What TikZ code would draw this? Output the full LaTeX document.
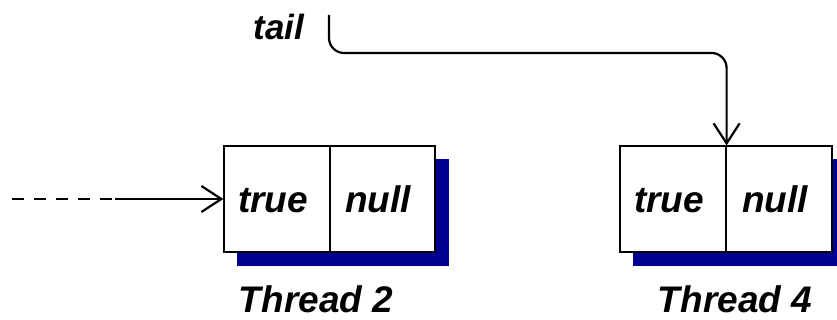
\documentclass[tikz,border=0pt]{standalone}
\usepackage{fontspec}
\setmainfont{Liberation Sans}
\usetikzlibrary{arrows.meta}
\definecolor{shadowblue}{RGB}{0,0,145}
\begin{document}
\begin{tikzpicture}[x=1pt,y=-1pt,
  cell/.style={draw, line width=1.2pt, fill=white, minimum width=106pt, minimum height=106pt, inner sep=0pt},
  celltext/.style={font=\fontsize{37}{40}\selectfont\bfseries\itshape, inner sep=0pt, anchor=base},
  shadowbox/.style={fill=shadowblue, minimum height=107pt, inner sep=0pt},
  lbl/.style={font=\fontsize{37}{42}\selectfont\bfseries\itshape, inner sep=0pt, anchor=base},
  ptr/.style={line width=2.2pt, -{Straight Barb[length=20pt,width=26pt]}}]
\useasboundingbox (0,0) rectangle (837,320);
% shadows
\node[shadowbox, minimum width=212pt] (s1) at (343,212.5) {};
\node[shadowbox, minimum width=204pt] (s2) at (735,212.5) {};
% boxes
\node[cell] (b1l) at (277,199) {};
\node[cell, minimum width=105pt] (b1r) at (382.5,199) {};
\node[cell] (b2l) at (673,199) {};
\node[cell] (b2r) at (779,199) {};
\node[celltext] (b1lt) at (273,213) {true};
\node[celltext] (b1rt) at (378,213) {null};
\node[celltext] (b2lt) at (669,213) {true};
\node[celltext] (b2rt) at (775,213) {null};
% labels
\node[lbl, font=\fontsize{35}{40}\selectfont\bfseries\itshape] (tail) at (279,40) {tail};
\node[lbl] (t2) at (316,312) {Thread 2};
\node[lbl] (t4) at (735,312) {Thread 4};
% tail pointer
\coordinate (tailstart) at (329,15);
\coordinate (tailbend) at (329,53);
\draw[ptr, rounded corners=15pt] (tailstart) -- (tailbend) -| (b2l.north east);
% incoming pointer
\coordinate (instart) at (12,199);
\coordinate (insplit) at (115,199);
\draw[line width=2.2pt, dash pattern=on 12pt off 10pt] (instart) -- (insplit);
\draw[ptr] (insplit) -- (b1l.west);
\end{tikzpicture}
\end{document}
